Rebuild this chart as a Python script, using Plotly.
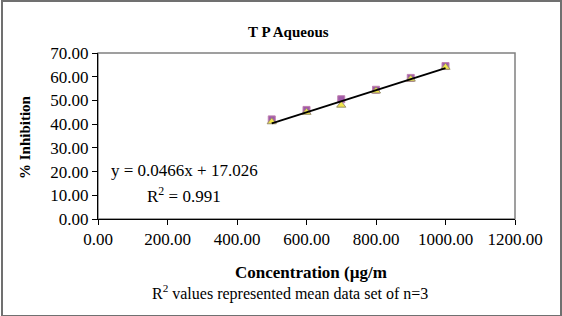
import plotly.graph_objects as go

concentration = [500, 600, 700, 800, 900, 1000]
series_squares = [42.0, 46.0, 50.5, 54.5, 59.5, 64.5]
series_triangles = [41.0, 45.0, 48.0, 54.0, 59.0, 64.0]
slope = 0.0466
intercept = 17.026
trend_x = [500, 1000]
trend_y = [slope * v + intercept for v in trend_x]

x_ticks = [0, 200, 400, 600, 800, 1000, 1200]
y_ticks = [0, 10, 20, 30, 40, 50, 60, 70]

FONT = "Liberation Serif, Times New Roman, serif"

fig = go.Figure()
fig.add_trace(go.Scatter(x=concentration, y=series_squares, mode="markers",
                         marker=dict(symbol="square", size=7, color="#a05aa8",
                                     line=dict(color="#c080b0", width=1)),
                         showlegend=False))
fig.add_trace(go.Scatter(x=concentration, y=series_triangles, mode="markers",
                         marker=dict(symbol="triangle-up", size=8, color="#f2e64a",
                                     line=dict(color="#9a9070", width=1)),
                         showlegend=False))
fig.add_trace(go.Scatter(x=trend_x, y=trend_y, mode="lines",
                         line=dict(color="black", width=2), showlegend=False))

W, H = 562, 316
L, R, T, B = 98, 515, 53, 219
pw, ph = R - L, B - T

def px(x):
    return (x - L) / pw

def py(y):
    return (B - y) / ph

fig.update_layout(
    width=W, height=H,
    margin=dict(l=L, r=W - R, t=T, b=H - B),
    paper_bgcolor="white", plot_bgcolor="white",
    font=dict(family=FONT, size=17, color="black"),
    xaxis=dict(range=[0, 1200], tickvals=x_ticks, tickformat=".2f",
               showgrid=False, zeroline=False, showline=True, linecolor="black",
               linewidth=1, ticks="outside", ticklen=5, tickcolor="black",
               tickfont=dict(size=17)),
    yaxis=dict(range=[0, 70], tickvals=y_ticks, tickformat=".2f",
               showgrid=False, zeroline=False, showline=True, linecolor="black",
               linewidth=1, ticks="outside", ticklen=5, tickcolor="black",
               tickfont=dict(size=17)),
    shapes=[
        dict(type="rect", xref="paper", yref="paper", x0=0, x1=1, y0=0, y1=1,
             line=dict(color="#808080", width=1.5), layer="below"),
        dict(type="rect", xref="paper", yref="paper", x0=px(2), x1=px(561),
             y0=py(316), y1=py(1), line=dict(color="#707070", width=2)),
    ],
    annotations=[
        dict(text="<b>T P Aqueous</b>", xref="paper", yref="paper", x=px(288), y=py(32),
             showarrow=False, font=dict(size=15), xanchor="center", yanchor="middle"),
        dict(text="<b>% Inhibition</b>", xref="paper", yref="paper", x=px(25), y=py(137),
             showarrow=False, textangle=-90, font=dict(size=15), xanchor="center", yanchor="middle"),
        dict(text="<b>Concentration (µg/m</b>", xref="paper", yref="paper", x=px(311), y=py(272),
             showarrow=False, font=dict(size=17), xanchor="center", yanchor="middle"),
        dict(text="R<sup>2</sup> values represented mean data set of n=3", xref="paper", yref="paper",
             x=px(290), y=py(292), showarrow=False, font=dict(size=16), xanchor="center", yanchor="middle"),
        dict(text="y = 0.0466x + 17.026", xref="paper", yref="paper", x=px(184), y=py(170),
             showarrow=False, font=dict(size=17), xanchor="center", yanchor="middle"),
        dict(text="R<sup>2</sup> = 0.991", xref="paper", yref="paper", x=px(184), y=py(195),
             showarrow=False, font=dict(size=17), xanchor="center", yanchor="middle"),
    ],
)

fig.write_html("out.html", config={"displayModeBar": False},
               post_script="document.body.style.margin='0';document.body.style.overflow='hidden';")
